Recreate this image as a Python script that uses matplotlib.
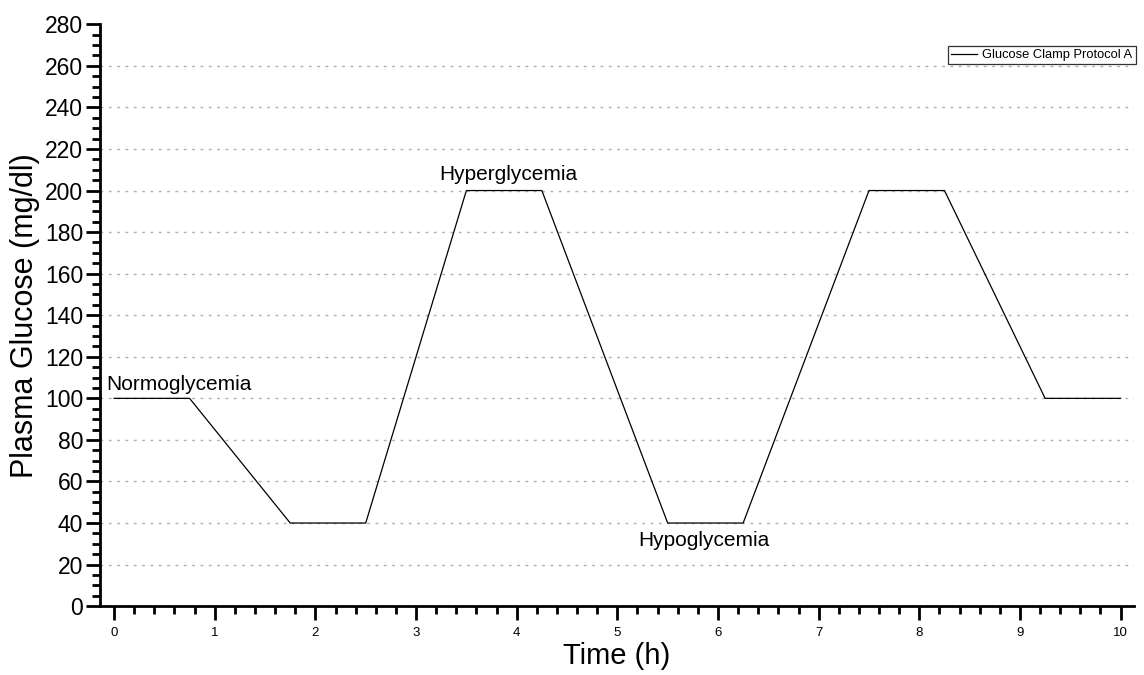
import numpy as np
import matplotlib
matplotlib.use('Agg')
import matplotlib.pyplot as plt
from matplotlib.ticker import MultipleLocator

plt.rcParams['font.family'] = ['Liberation Sans', 'DejaVu Sans']

# clamp protocol: time (h) vs target plasma glucose (mg/dl)
time_h = [0, 0.75, 1.75, 2.5, 3.5, 4.25, 5.5, 6.25, 7.5, 8.25, 9.25, 10]
glucose = [100, 100, 40, 40, 200, 200, 40, 40, 200, 200, 100, 100]
series_name = 'Glucose Clamp Protocol A'

phase_labels = ['Normoglycemia', 'Hyperglycemia', 'Hypoglycemia']

fig = plt.figure(figsize=(11.44, 6.75), dpi=100)
ax = fig.add_axes([0.0874, 0.102, 0.9036, 0.862])

ax.plot(time_h, glucose, color='black', lw=0.9, label=series_name)

ax.set_xlim(-0.14, 10.13)
ax.set_ylim(0, 280)
ax.xaxis.set_major_locator(MultipleLocator(1))
ax.xaxis.set_minor_locator(MultipleLocator(0.2))
ax.yaxis.set_major_locator(MultipleLocator(20))
ax.yaxis.set_minor_locator(MultipleLocator(5))

for side in ['top', 'right']:
    ax.spines[side].set_visible(False)
for side in ['left', 'bottom']:
    ax.spines[side].set_linewidth(2)

ax.tick_params(axis='both', which='major', direction='out', length=10, width=2)
ax.tick_params(axis='both', which='minor', direction='out', length=5.5, width=2)
ax.tick_params(axis='x', labelsize=9.5, pad=5)
ax.tick_params(axis='y', labelsize=16.5, pad=2)

# dotted horizontal guides
for gy in np.arange(20, 280, 20):
    ax.axhline(gy, color='#b0b0b0', lw=1, ls=(0, (2, 4)), zorder=0)

ax.set_xlabel('Time (h)', fontsize=21, labelpad=2)
ax.set_ylabel('Plasma Glucose (mg/dl)', fontsize=22, labelpad=4)

ax.text(-0.08, 102, phase_labels[0], fontsize=15, ha='left', va='bottom')
ax.text(3.92, 203, phase_labels[1], fontsize=15, ha='center', va='bottom')
ax.text(5.86, 36, phase_labels[2], fontsize=15, ha='center', va='top')

leg = ax.legend(loc='upper right', bbox_to_anchor=(1.003, 0.965), fontsize=9.3,
                frameon=True, fancybox=False, handlelength=2.0, borderpad=0.25,
                borderaxespad=0.1, handletextpad=0.4)
leg.get_frame().set_edgecolor('black')
leg.get_frame().set_linewidth(0.9)

fig.savefig('out.png', dpi=100)
